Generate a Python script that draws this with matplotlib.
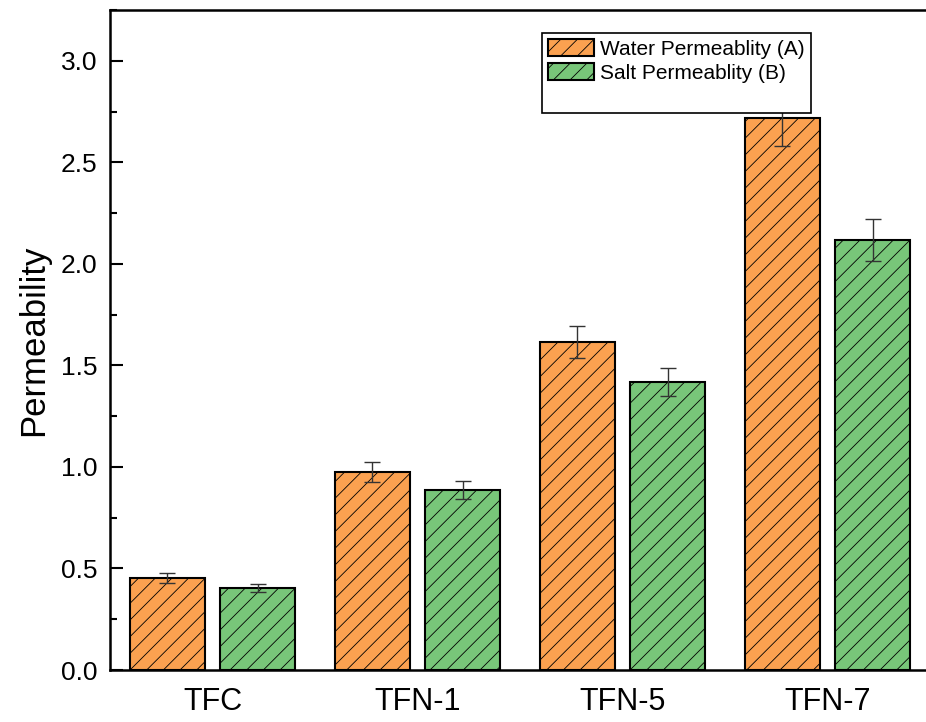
import matplotlib.pyplot as plt
import numpy as np
from matplotlib.patches import Rectangle
from matplotlib.ticker import MultipleLocator

plt.rcParams['font.family'] = ['Liberation Sans', 'DejaVu Sans']
plt.rcParams['hatch.linewidth'] = 0.6

# membrane samples and measured permeabilities
samples = ['TFC', 'TFN-1', 'TFN-5', 'TFN-7']
water_perm = [0.455, 0.975, 1.615, 2.72]
water_err = [0.025, 0.05, 0.08, 0.14]
salt_perm = [0.405, 0.887, 1.418, 2.118]
salt_err = [0.02, 0.045, 0.07, 0.105]

orange = '#FBA150'
green = '#78C679'

fig = plt.figure(figsize=(9.26, 7.22), dpi=100)
ax = fig.add_axes([0.1188, 0.072, 0.8812, 0.914])

x = np.arange(len(samples))
width = 0.366
offset = 0.22

err_kw = dict(ecolor='#333333', elinewidth=1.0, capsize=6, capthick=1.0)
ax.bar(x - offset, water_perm, width, yerr=water_err, color=orange,
       edgecolor='black', linewidth=1.5, hatch='//', error_kw=err_kw,
       label='Water Permeablity (A)')
ax.bar(x + offset, salt_perm, width, yerr=salt_err, color=green,
       edgecolor='black', linewidth=1.5, hatch='//', error_kw=err_kw,
       label='Salt Permeablity (B)')

ax.set_xlim(-0.5, 3.48)
ax.set_ylim(0, 3.25)
ax.set_xticks(x)
ax.set_xticklabels(samples, fontsize=22)
ax.tick_params(axis='x', length=0, pad=12)
ax.yaxis.set_major_locator(MultipleLocator(0.5))
ax.yaxis.set_minor_locator(MultipleLocator(0.25))
ax.tick_params(axis='y', which='major', direction='in', length=9, width=1.5,
               labelsize=19, pad=9)
ax.tick_params(axis='y', which='minor', direction='in', length=5, width=1.5)
ax.set_ylabel('Permeability', fontsize=25, labelpad=8)

for side in ['left', 'bottom', 'top']:
    ax.spines[side].set_linewidth(1.8)
ax.spines['right'].set_visible(False)

# blank third row keeps the box taller like the Origin legend
handles, labels = ax.get_legend_handles_labels()
handles.append(Rectangle((0, 0), 1, 1, fill=False, edgecolor='none'))
labels.append(' ')
leg = ax.legend(handles, labels, loc='upper left', bbox_to_anchor=(0.529, 0.965),
                fontsize=15, frameon=True, fancybox=False, edgecolor='black',
                framealpha=1, handlelength=2.2, handleheight=0.85,
                handletextpad=0.3, labelspacing=0.2, borderpad=0.3,
                borderaxespad=0)
leg.get_frame().set_linewidth(1.2)

fig.savefig('out.png', dpi=100)
